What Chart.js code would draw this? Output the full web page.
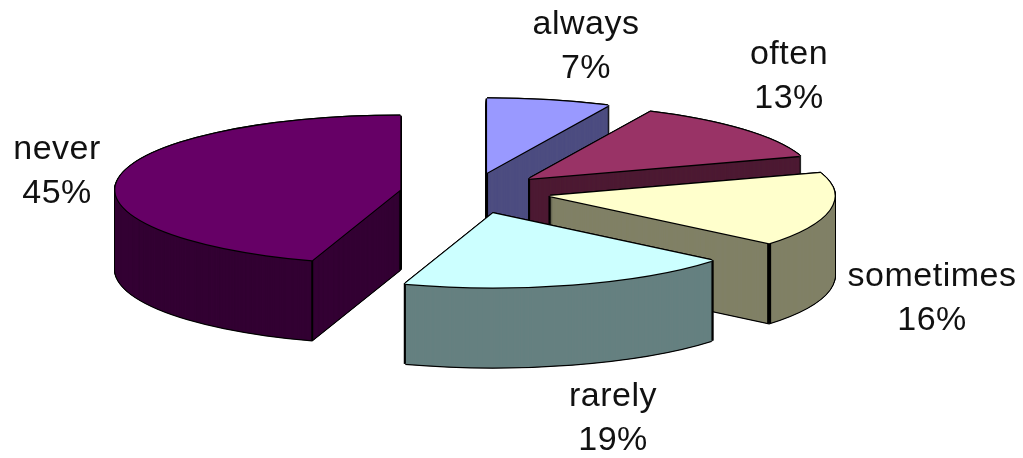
<!DOCTYPE html>
<html><head><meta charset="utf-8">
<script src="https://cdn.jsdelivr.net/npm/chart.js@4"></script>
<style>html,body{margin:0;padding:0;background:#fff;overflow:hidden}
#wrap{position:absolute;left:0;top:0;width:1023px;height:458px}
canvas{filter:blur(0.7px)}</style></head>
<body><div id="wrap"><canvas id="c"></canvas></div>
<script>
const categories = ['always','often','sometimes','rarely','never'];
const percentages = [7,13,16,19,45];
const topColors = ['#9999FF','#993366','#FFFFCC','#CCFFFF','#660066'];
const sideColors = ['#4D4D80','#4D1A33','#808066','#668080','#330033'];
const explosion = [92,80,82,59,66];
const nudgeX = [0,2,2,9.5,-1.5];
const nudgeY = [1,-2.5,-3,3.5,-2.5];
const drawOrder = [0,1,2,4,3];
const labelAnchors = [[586,25],[789,55],[932,277],[613,397],[57,150]];

const view = {x:467,y:195,squash:0.26,depth:80,radius:285,lineGap:44,font:'34px "Liberation Sans", Arial, sans-serif'};
const rim = [[-1.3,0],[1.3,0],[0,-1.3],[0,1.3]];

function drawArcAt(ctx, arc, i, dx, dy, color){
  const saved = arc.options;
  arc.options = {offset:0,spacing:0,circular:true,borderWidth:0,borderRadius:0,borderAlign:'center',backgroundColor:color,borderColor:color};
  const h = (arc.startAngle+arc.endAngle)/2;
  ctx.save();
  ctx.translate(view.x+nudgeX[i]+dx, view.y+nudgeY[i]+dy);
  ctx.scale(1, view.squash);
  ctx.translate(Math.cos(h)*explosion[i]-arc.x, Math.sin(h)*explosion[i]-arc.y);
  arc.draw(ctx);
  ctx.restore();
  arc.options = saved;
}
function visibleEdges(arc, sx, sy){
  const r = arc.outerRadius, edges = [];
  const TAU = Math.PI*2, down = Math.PI/2;
  let d = (down-arc.startAngle)%TAU; if(d<0) d+=TAU;
  if(d > arc.endAngle-arc.startAngle) edges.push({x:sx,y:sy,w:2});
  [arc.startAngle,arc.endAngle].forEach(a=>{
    if(Math.sin(a)>0) edges.push({x:sx+Math.cos(a)*r,y:sy+Math.sin(a)*r*view.squash,w:2});
  });
  return edges;
}
const pie3d = {
  id:'pie3d',
  beforeDatasetDraw(){ return false; },
  afterDatasetsDraw(chart){
    const ctx = chart.ctx, arcs = chart.getDatasetMeta(0).data;
    drawOrder.forEach(i=>{
      const arc = arcs[i];
      const h = (arc.startAngle+arc.endAngle)/2;
      const sx = view.x+nudgeX[i]+Math.cos(h)*explosion[i];
      const sy = view.y+nudgeY[i]+Math.sin(h)*explosion[i]*view.squash;
      for(let d=view.depth;d>=0;d-=0.5) rim.forEach(o=>drawArcAt(ctx,arc,i,o[0],d+o[1],'#000'));
      for(let d=view.depth;d>0;d-=0.5) drawArcAt(ctx,arc,i,0,d,sideColors[i]);
      ctx.save();ctx.strokeStyle='#000';
      visibleEdges(arc,sx,sy).forEach((e,k)=>{
        ctx.lineWidth = (i===2 && k===1) ? 4 : e.w;
        ctx.beginPath();ctx.moveTo(e.x,e.y);ctx.lineTo(e.x,e.y+view.depth);ctx.stroke();
      });
      ctx.restore();
      rim.forEach(o=>drawArcAt(ctx,arc,i,o[0],o[1],'#000'));
      drawArcAt(ctx,arc,i,0,0,topColors[i]);
    });
    ctx.save();
    ctx.font=view.font;ctx.letterSpacing='0.5px';ctx.fillStyle='#111';ctx.textAlign='center';ctx.textBaseline='middle';
    categories.forEach((c,i)=>{
      const a=labelAnchors[i];
      ctx.fillText(c,a[0],a[1]);
      ctx.fillText(percentages[i]+'%',a[0],a[1]+view.lineGap);
    });
    ctx.restore();
  }
};
new Chart(document.getElementById('c'),{
  type:'pie',
  data:{labels:categories,datasets:[{data:percentages,backgroundColor:topColors,borderWidth:0}]},
  options:{responsive:true,maintainAspectRatio:false,animation:false,radius:view.radius,
    plugins:{legend:{display:false},tooltip:{enabled:false}}},
  plugins:[pie3d]
});
</script></body></html>
